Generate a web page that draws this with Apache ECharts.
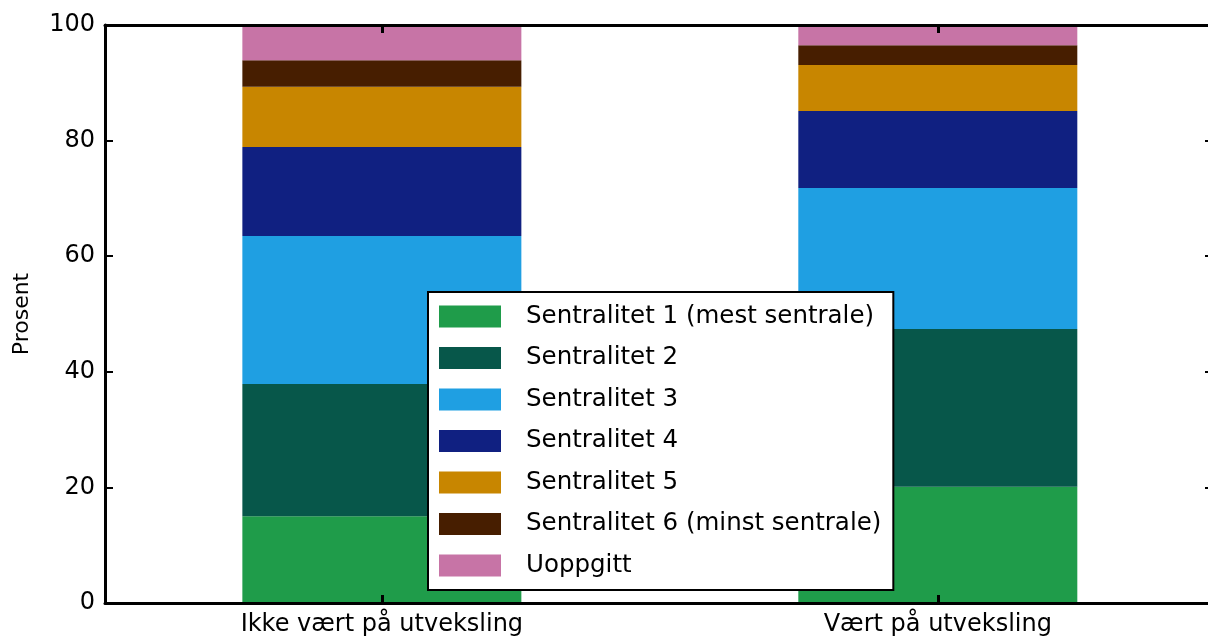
<!DOCTYPE html>
<html>
<head>
<meta charset="utf-8">
<title>Sentralitet</title>
<script src="https://cdn.jsdelivr.net/npm/echarts@6/dist/echarts.min.js"></script>
<style>
  html, body { margin: 0; padding: 0; background: #fff; }
  #chart { width: 1208px; height: 640px; }
</style>
</head>
<body>
<div id="chart"></div>
<script>
// kategorier og verdier (prosent)
var categories = ['Ikke vært på utveksling', 'Vært på utveksling'];
var seriesNames = [
  'Sentralitet 1 (mest sentrale)',
  'Sentralitet 2',
  'Sentralitet 3',
  'Sentralitet 4',
  'Sentralitet 5',
  'Sentralitet 6 (minst sentrale)',
  'Uoppgitt'
];
var sentralitet1 = [15.0, 20.1];
var sentralitet2 = [22.9, 27.3];
var sentralitet3 = [25.6, 24.4];
var sentralitet4 = [15.4, 13.3];
var sentralitet5 = [10.4, 8.0];
var sentralitet6 = [4.6, 3.4];
var uoppgitt = [6.1, 3.5];
var yTicks = [0, 20, 40, 60, 80, 100];

var colors = ['#1f9c4a', '#07574a', '#1f9fe2', '#102081', '#c88600', '#471e00', '#c774a6'];
var values = [sentralitet1, sentralitet2, sentralitet3, sentralitet4, sentralitet5, sentralitet6, uoppgitt];

var font = 'DejaVu Sans';

// posisjon 0, 1 ... for hver kategori (x-aksen er numerisk, som i originalen)
var catPos = categories.map(function (c, i) { return i; });

var myChart = echarts.init(document.getElementById('chart'));

// verdien først, slik at stablingen skjer på y
var series = seriesNames.map(function (name, i) {
  return {
    name: name,
    type: 'bar',
    stack: 'total',
    barWidth: 279,
    encode: { x: 1, y: 0 },
    itemStyle: { color: colors[i] },
    emphasis: { disabled: true },
    data: values[i].map(function (v, j) { return [v, catPos[j]]; })
  };
});

var xTick = { inside: true, length: 8, customValues: catPos, lineStyle: { color: '#000', width: 3 } };

var option = {
  animation: false,
  grid: { left: 105, top: 25, right: 0, bottom: 37 },
  legend: {
    orient: 'vertical',
    left: 428,
    top: 292,
    data: seriesNames,
    backgroundColor: '#fff',
    borderColor: '#000',
    borderWidth: 2,
    borderRadius: 0,
    padding: [12, 12, 12, 11],
    itemWidth: 62,
    itemHeight: 22,
    itemGap: 16.5,
    icon: 'rect',
    selectedMode: false,
    textStyle: {
      fontFamily: font,
      fontSize: 24.5,
      color: '#000',
      lineHeight: 22,
      padding: [0, 0, 0, 20]
    }
  },
  xAxis: [
    {
      type: 'value',
      min: -0.498,
      max: 1.486,
      position: 'bottom',
      z: 5,
      splitLine: { show: false },
      axisLine: { onZero: false, lineStyle: { color: '#000', width: 3 } },
      axisTick: xTick,
      axisLabel: {
        customValues: catPos,
        fontFamily: font,
        fontSize: 24,
        color: '#000',
        margin: 10,
        formatter: function (v) { return categories[Math.round(v)]; }
      }
    },
    {
      type: 'value',
      min: -0.498,
      max: 1.486,
      position: 'top',
      z: 5,
      splitLine: { show: false },
      axisLine: { onZero: false, lineStyle: { color: '#000', width: 3 } },
      axisTick: xTick,
      axisLabel: { show: false }
    }
  ],
  yAxis: [
    {
      type: 'value',
      min: yTicks[0],
      max: yTicks[yTicks.length - 1],
      interval: 20,
      name: 'Prosent',
      nameLocation: 'middle',
      nameGap: 72,
      nameTextStyle: { fontFamily: font, fontSize: 22, color: '#000' },
      z: 5,
      axisLine: { show: true, onZero: false, lineStyle: { color: '#000', width: 3 } },
      axisTick: { show: true, inside: true, length: 8, lineStyle: { color: '#000', width: 2 } },
      axisLabel: { fontFamily: font, fontSize: 24, color: '#000', margin: 10 },
      splitLine: { show: false }
    },
    {
      type: 'value',
      min: yTicks[0],
      max: yTicks[yTicks.length - 1],
      interval: 20,
      position: 'right',
      axisLine: { show: false, onZero: false },
      axisTick: { show: true, inside: true, length: 3, lineStyle: { color: '#000', width: 2 } },
      axisLabel: { show: false },
      splitLine: { show: false }
    }
  ],
  series: series
};

myChart.setOption(option);
</script>
</body>
</html>
